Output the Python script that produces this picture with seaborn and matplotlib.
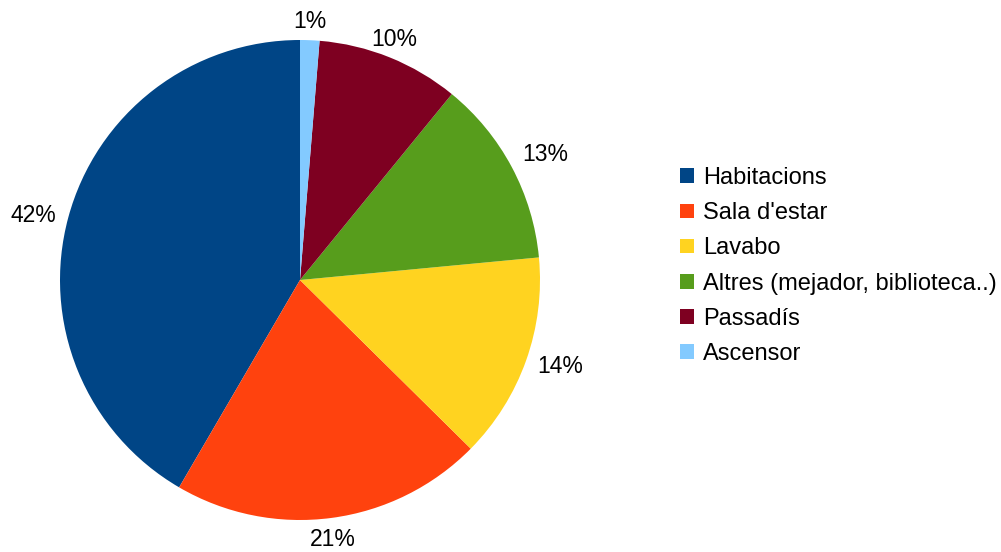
import numpy as np
import matplotlib
matplotlib.use("Agg")
import matplotlib.pyplot as plt
import seaborn as sns
from matplotlib.patches import Patch

# Share of space by area type
categories = ["Habitacions", "Sala d'estar", "Lavabo",
              "Altres (mejador, biblioteca..)", "Passadís", "Ascensor"]
shares = [41.6, 21.0, 13.9, 12.6, 9.6, 1.3]
colors = ["#004586", "#ff420e", "#ffd320", "#579d1c", "#7e0021", "#83caff"]

sns.set_theme(style="white")
plt.rcParams["font.family"] = ["Liberation Sans", "DejaVu Sans"]
plt.rcParams["text.color"] = "black"

LABEL_FS = 16.5
LEGEND_FS = 17
W, H = 1001, 552
fig = plt.figure(figsize=(W / 100, H / 100), dpi=100)
cx, cy, r = 300, 280, 240
ax = fig.add_axes([(cx - r) / W, (H - cy - r) / H, 2 * r / W, 2 * r / H])

wedges, _ = ax.pie(shares, colors=colors, startangle=90, counterclock=True,
                   wedgeprops=dict(linewidth=0))
ax.set_xlim(-1, 1)
ax.set_ylim(-1, 1)
ax.set_aspect("equal")
ax.axis("off")

# Percent labels: anchored on a ring just outside the rim; the side of the
# text box that faces the pie touches the anchor point.
renderer = fig.canvas.get_renderer()
total = sum(shares)
ring = 252                                 # px from the centre
cap_h = 0.716 * LABEL_FS * 100 / 72        # digit height in px
for w, v in zip(wedges, shares):
    mid = np.deg2rad((w.theta1 + w.theta2) / 2)
    c, s = np.cos(mid), np.sin(mid)
    t = ax.text(0, 0, f"{v / total * 100:.0f}%", ha="center", va="baseline",
                fontsize=LABEL_FS, color="black", clip_on=False)
    tw = t.get_window_extent(renderer).width
    sx = 1 if c > 0.5 else (-1 if c < -0.5 else 0)
    sy = 1 if s > 0.4 else (-1 if s < -0.4 else 0)
    gx = ring * c + sx * tw / 2
    gy = ring * s + sy * cap_h / 2
    t.set_position((gx / r, (gy - cap_h / 2) / r))

handles = [Patch(facecolor=col, edgecolor="none") for col in colors]
leg = fig.legend(handles, categories, loc="upper left",
                 bbox_to_anchor=(680 / W, 1 - 167 / H), frameon=False,
                 fontsize=LEGEND_FS, handlelength=0.58, handleheight=0.58,
                 handletextpad=0.4, labelspacing=0.56, borderpad=0,
                 borderaxespad=0)
for txt in leg.get_texts():
    txt.set_color("black")

fig.savefig("out.png", dpi=100, facecolor="white")
